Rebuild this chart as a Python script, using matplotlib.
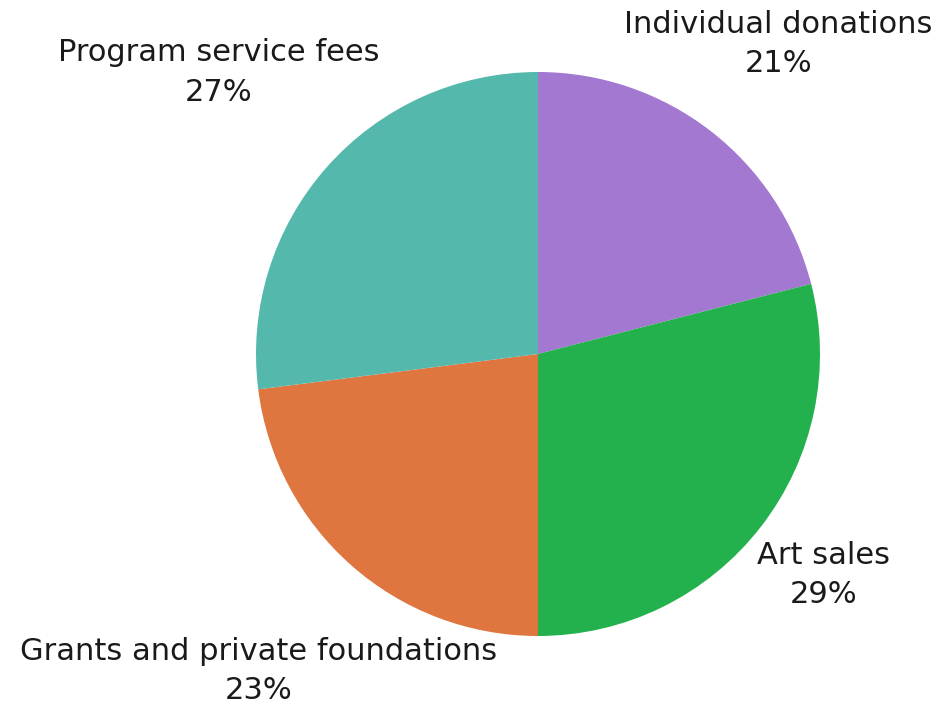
import numpy as np
import matplotlib.pyplot as plt

# Revenue sources (clockwise from 12 o'clock)
categories = ["Individual donations", "Art sales", "Grants and private foundations", "Program service fees"]
shares = [21, 29, 23, 27]
colors = ["#A378D0", "#22B14C", "#DF7640", "#55B8AC"]
label_dist = [1.39, 1.28, 1.50, 1.51]

fig = plt.figure(figsize=(9.38, 7.07), dpi=100)
ax = fig.add_axes([256 / 938, 71 / 707, 564 / 938, 564 / 707])

wedges, _ = ax.pie(shares, colors=colors, startangle=90, counterclock=False,
                   radius=1.0, wedgeprops=dict(linewidth=0))
ax.set_xlim(-1, 1)
ax.set_ylim(-1, 1)

for w, name, val, d in zip(wedges, categories, shares, label_dist):
    ang = np.deg2rad((w.theta1 + w.theta2) / 2)
    x, y = d * np.cos(ang), d * np.sin(ang)
    ax.text(x, y, f"{name}\n{val}%", ha="center", va="center", fontsize=22,
            color="#1a1a1a", linespacing=1.45, family="DejaVu Sans")

fig.savefig("out.png", dpi=100, facecolor="white")
